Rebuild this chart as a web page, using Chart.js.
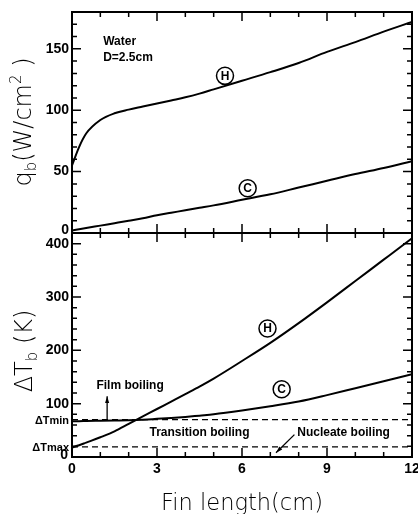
<!DOCTYPE html>
<html>
<head>
<meta charset="utf-8">
<script src="https://cdn.jsdelivr.net/npm/chart.js@4"></script>
<style>
  body { margin: 0; background: #fff; }
  #wrap { position: relative; width: 418px; height: 514px; }
  canvas { position: absolute; left: 0; top: 0; }
</style>
</head>
<body>
<div id="wrap">
  <canvas id="topChart" width="418" height="514"></canvas>
  <canvas id="botChart" width="418" height="514"></canvas>
</div>
<script>
// fin length (cm) shared by all curves
const finLength = [0, 0.25, 0.5, 1, 1.5, 2, 2.5, 3, 3.5, 4, 4.5, 5, 6, 7, 8, 9, 10, 11, 12];

// upper panel: base heat flux q_b (W/cm2)
const qbH = [55, 70, 81, 92, 97.5, 100.5, 103, 105.5, 108, 110.5, 113.5, 117, 124, 131, 138.5, 147.5, 155.5, 164, 172];
const qbC = [2, 3, 4, 6, 8, 10, 12, 14.5, 16.5, 18.5, 20.5, 22.5, 27, 31.5, 37, 42.5, 48, 53, 58.5];

// lower panel: base superheat dT_b (K)
const dtH = [18, 22, 27, 37, 48, 62, 76, 90, 104, 118, 132, 147, 180, 214, 251, 290, 330, 370, 410];
const dtC = [67, 67, 67.5, 68, 68.5, 69, 70, 71.5, 73, 75, 77.5, 80, 87, 95, 104, 116, 129, 142, 155];

const dTmin = 70;
const dTmax = 19;

const xTicks = [0, 3, 6, 9, 12];
const qbTicks = [0, 50, 100, 150];
const dtTicks = [100, 200, 300, 400];

const W = 418, H = 514;
const plotLeft = 72, plotRight = 412;
const splitY = 233, topY = 12, bottomY = 457;

const pts = (xs, ys) => xs.map((x, i) => ({ x: x, y: ys[i] }));

function lineSet(data, dash) {
    return {
        data: data,
        borderColor: '#000',
        borderWidth: dash ? 1.4 : 2,
        borderDash: dash || [],
        pointRadius: 0,
        fill: false,
        cubicInterpolationMode: 'monotone'
    };
}

function circled(ctx, x, y, letter) {
    ctx.save();
    ctx.lineWidth = 1.5;
    ctx.beginPath();
    ctx.arc(x, y, 8.5, 0, Math.PI * 2);
    ctx.stroke();
    ctx.font = 'bold 12px "Liberation Sans"';
    ctx.textAlign = 'center';
    ctx.textBaseline = 'middle';
    ctx.fillText(letter, x, y + 0.5);
    ctx.restore();
}

function arrow(ctx, x1, y1, x2, y2) {
    ctx.save();
    ctx.lineWidth = 1.3;
    ctx.beginPath();
    ctx.moveTo(x1, y1);
    ctx.lineTo(x2, y2);
    ctx.stroke();
    const a = Math.atan2(y2 - y1, x2 - x1);
    ctx.beginPath();
    ctx.moveTo(x2, y2);
    ctx.lineTo(x2 - 7 * Math.cos(a - 0.3), y2 - 7 * Math.sin(a - 0.3));
    ctx.lineTo(x2 - 7 * Math.cos(a + 0.3), y2 - 7 * Math.sin(a + 0.3));
    ctx.closePath();
    ctx.fill();
    ctx.restore();
}

// frame, inward ticks and labels
const framePlugin = {
    id: 'frame',
    afterDraw(chart, args, opts) {
        const ctx = chart.ctx;
        const a = chart.chartArea;
        const xs = chart.scales.x, ys = chart.scales.y;
        ctx.save();
        ctx.strokeStyle = '#000';
        ctx.fillStyle = '#000';
        ctx.lineWidth = 2;
        ctx.strokeRect(a.left, a.top, a.right - a.left, a.bottom - a.top);

        ctx.lineWidth = 1.5;
        ctx.beginPath();
        for (let v = 0; v <= 12; v += 1) {
            const px = xs.getPixelForValue(v);
            const len = v % 3 === 0 ? 9 : 5;
            ctx.moveTo(px, a.bottom); ctx.lineTo(px, a.bottom - len);
            ctx.moveTo(px, a.top); ctx.lineTo(px, a.top + len);
        }
        for (let v = 0; v <= ys.max; v += opts.minor) {
            const py = ys.getPixelForValue(v);
            const len = v % opts.major === 0 ? 9 : 5;
            ctx.moveTo(a.left, py); ctx.lineTo(a.left + len, py);
            ctx.moveTo(a.right, py); ctx.lineTo(a.right - len, py);
        }
        ctx.stroke();

        ctx.font = 'bold 14px "Liberation Sans"';
        ctx.textAlign = 'right';
        ctx.textBaseline = 'middle';
        opts.yTicks.forEach(v => {
            const py = ys.getPixelForValue(v);
            const dy = v === 0 ? -3 : 0;
            ctx.fillText(String(v), a.left - 3, py + dy, 24);
        });
        if (opts.xLabels) {
            ctx.textAlign = 'center';
            ctx.textBaseline = 'top';
            xTicks.forEach(v => {
                ctx.fillText(String(v), xs.getPixelForValue(v), a.bottom + 5, 16);
            });
        }
        if (opts.extra) opts.extra(ctx, xs, ys);
        ctx.restore();
    }
};

function baseOptions(padTop, padBottom, yMax, frameOpts) {
    return {
        responsive: false,
        animation: false,
        devicePixelRatio: 1,
        layout: { padding: { left: plotLeft, right: W - plotRight, top: padTop, bottom: padBottom } },
        plugins: { legend: { display: false }, tooltip: { enabled: false }, frame: frameOpts },
        scales: {
            x: { type: 'linear', min: 0, max: 12, display: false },
            y: { type: 'linear', min: 0, max: yMax, display: false }
        }
    };
}

function yTitle(ctx, cx, cy, parts) {
    ctx.save();
    ctx.translate(cx, cy);
    ctx.rotate(-Math.PI / 2);
    let total = 0;
    parts.forEach(p => { ctx.font = p.font; total += ctx.measureText(p.t).width; });
    let x = -total / 2;
    ctx.textBaseline = 'alphabetic';
    ctx.textAlign = 'left';
    parts.forEach(p => {
        ctx.font = p.font;
        ctx.fillText(p.t, x, 9 + (p.dy || 0));
        x += ctx.measureText(p.t).width;
    });
    ctx.restore();
}

const bigFont = '300 24px "DejaVu Sans"';
const smallFont = '300 15px "DejaVu Sans"';

new Chart(document.getElementById('topChart'), {
    type: 'line',
    data: { datasets: [lineSet(pts(finLength, qbH)), lineSet(pts(finLength, qbC))] },
    options: baseOptions(topY, H - splitY, 180, {
        minor: 10, major: 50, yTicks: qbTicks, xLabels: false,
        extra(ctx, xs, ys) {
            ctx.font = 'bold 12px "Liberation Sans"';
            ctx.textAlign = 'left';
            ctx.textBaseline = 'middle';
            ctx.fillText('Water', xs.getPixelForValue(1.1), ys.getPixelForValue(155.5), 36);
            ctx.fillText('D=2.5cm', xs.getPixelForValue(1.1), ys.getPixelForValue(143), 52);
            circled(ctx, xs.getPixelForValue(5.4), ys.getPixelForValue(128), 'H');
            circled(ctx, xs.getPixelForValue(6.2), ys.getPixelForValue(36.5), 'C');
            yTitle(ctx, 22, 122, [
                { t: 'q', font: bigFont },
                { t: 'b', font: smallFont, dy: 5 },
                { t: '(W/cm', font: bigFont },
                { t: '2', font: smallFont, dy: -10 },
                { t: ' )', font: bigFont }
            ]);
        }
    }),
    plugins: [framePlugin]
});

new Chart(document.getElementById('botChart'), {
    type: 'line',
    data: {
        datasets: [
            lineSet(pts(finLength, dtH)),
            lineSet(pts(finLength, dtC)),
            lineSet(pts([0, 12], [dTmin, dTmin]), [6, 4]),
            lineSet(pts([0, 12], [dTmax, dTmax]), [6, 4])
        ]
    },
    options: baseOptions(splitY, H - bottomY, 420, {
        minor: 20, major: 100, yTicks: dtTicks, xLabels: true,
        extra(ctx, xs, ys) {
            const left = xs.getPixelForValue(0);
            ctx.font = 'bold 14px "Liberation Sans"';
            ctx.textAlign = 'right';
            ctx.textBaseline = 'middle';
            ctx.fillText('0', left - 4, ys.getPixelForValue(0) - 2);
            ctx.font = 'bold 11px "Liberation Sans"';
            ctx.fillText('\u0394Tmin', left - 3, ys.getPixelForValue(dTmin) + 1, 34);
            ctx.fillText('\u0394Tmax', left - 3, ys.getPixelForValue(dTmax) + 1, 38);

            ctx.font = 'bold 12px "Liberation Sans"';
            ctx.textAlign = 'center';
            ctx.fillText('Film boiling', xs.getPixelForValue(2.05), ys.getPixelForValue(133), 78);
            ctx.fillText('Transition boiling', xs.getPixelForValue(4.5), ys.getPixelForValue(45), 114);
            ctx.textAlign = 'left';
            ctx.fillText('Nucleate boiling', xs.getPixelForValue(7.95), ys.getPixelForValue(45), 106);

            arrow(ctx, xs.getPixelForValue(1.24), ys.getPixelForValue(dTmin), xs.getPixelForValue(1.24), ys.getPixelForValue(114));
            arrow(ctx, xs.getPixelForValue(7.85), ys.getPixelForValue(42), xs.getPixelForValue(7.2), ys.getPixelForValue(8));

            circled(ctx, xs.getPixelForValue(6.9), ys.getPixelForValue(241), 'H');
            circled(ctx, xs.getPixelForValue(7.4), ys.getPixelForValue(127), 'C');

            yTitle(ctx, 23, 351, [
                { t: '\u0394T', font: bigFont },
                { t: 'b', font: smallFont, dy: 5 },
                { t: ' (K)', font: bigFont }
            ]);

            ctx.font = '300 23px "DejaVu Sans"';
            ctx.textAlign = 'center';
            ctx.textBaseline = 'alphabetic';
            ctx.fillText('Fin length(cm)', 242, 510, 162);
        }
    }),
    plugins: [framePlugin]
});
</script>
</body>
</html>
